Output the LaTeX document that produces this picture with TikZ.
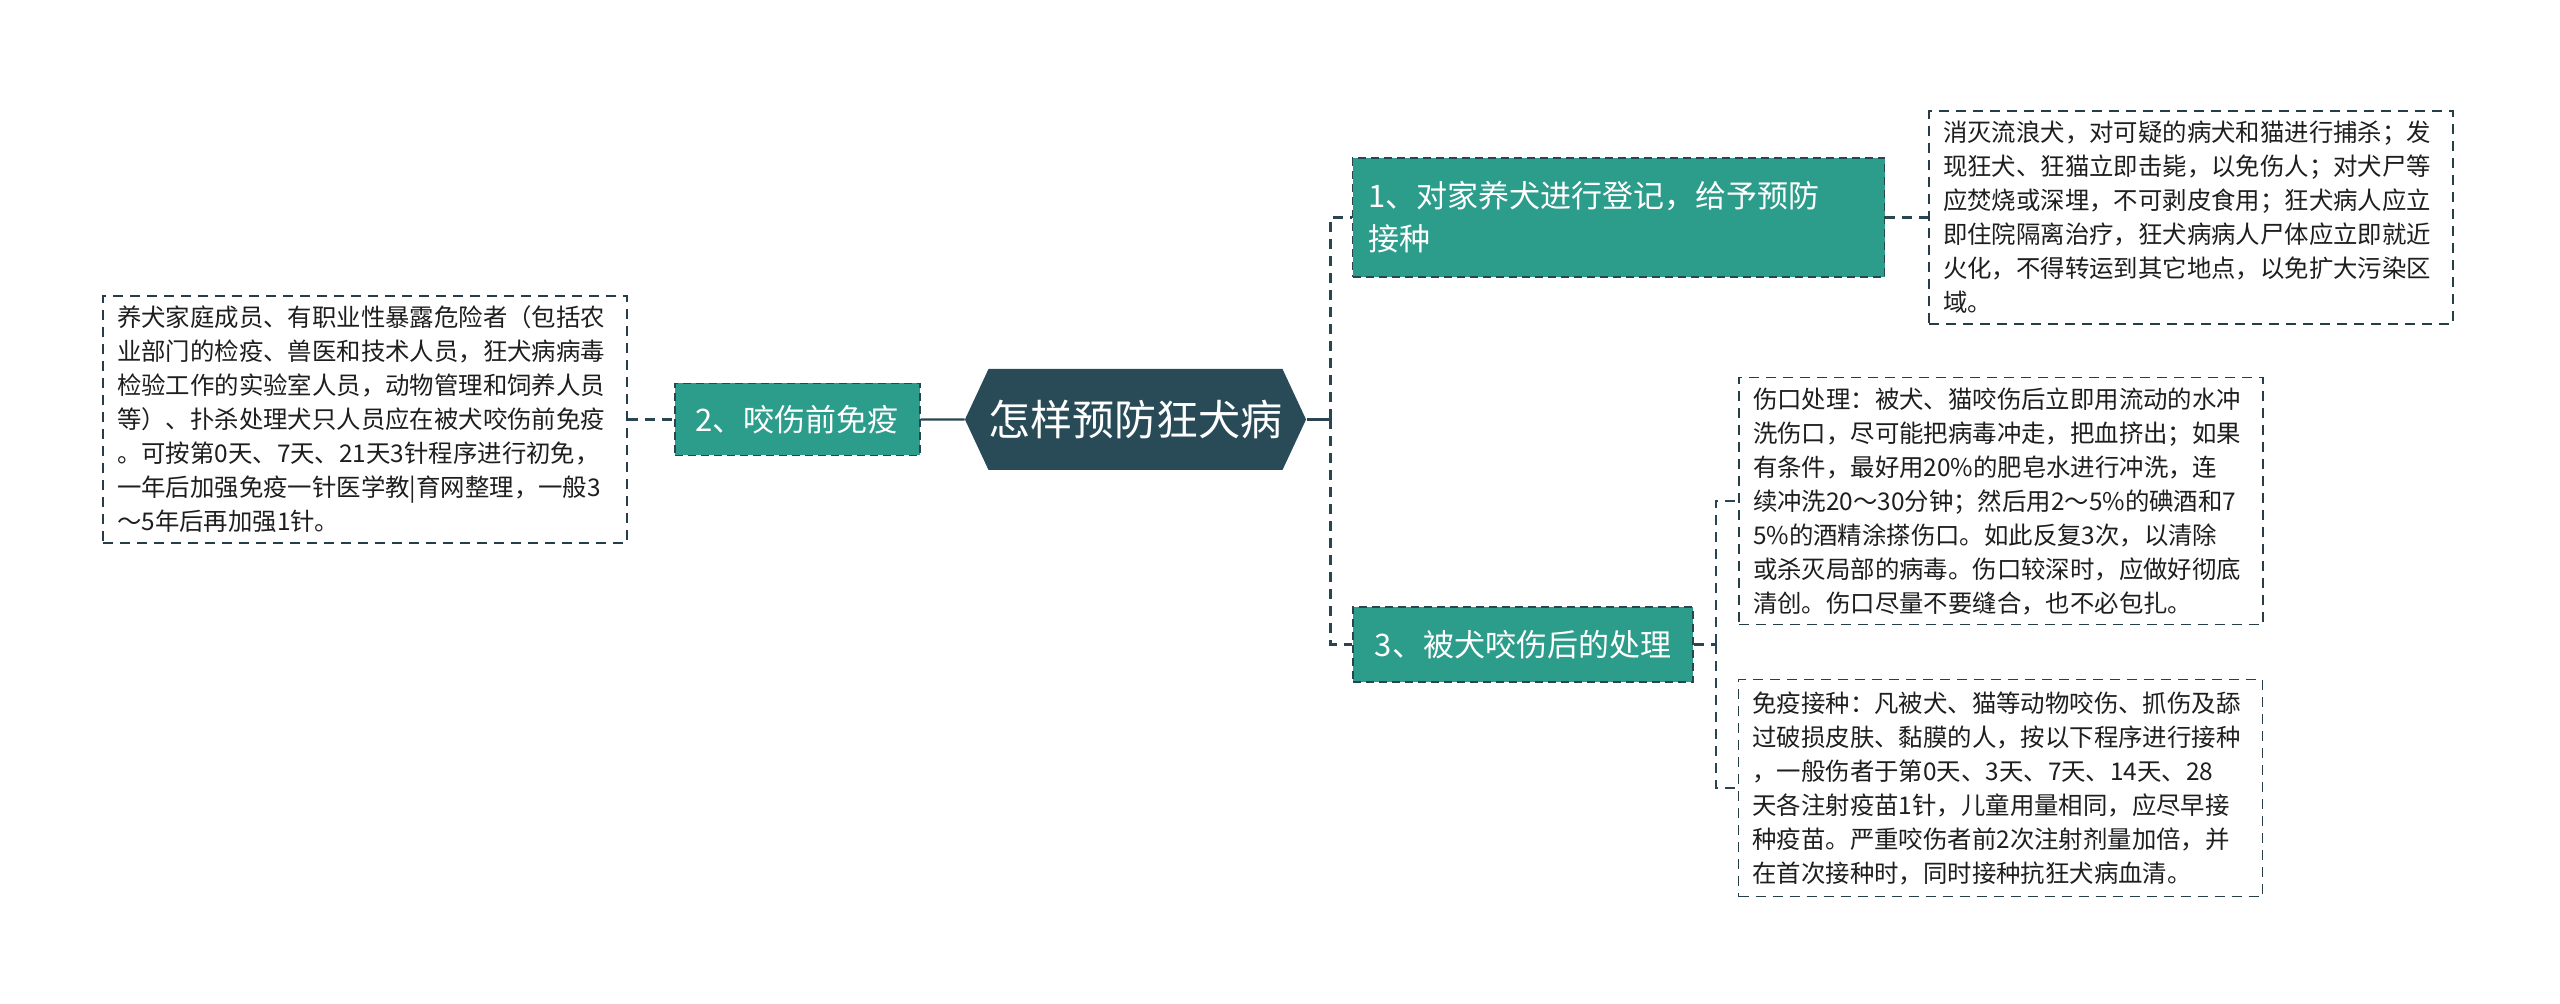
\documentclass[tikz,border=0pt]{standalone}
\usepackage{fontspec}
\newfontfamily\cjk{Noto Sans CJK SC}
\usepackage{xcolor}
\usetikzlibrary{positioning,shapes.symbols}

\definecolor{rootfill}{HTML}{284B57}
\definecolor{secfill}{HTML}{2C9C8B}
\definecolor{edgecol}{HTML}{2A4552}
\definecolor{leaftext}{HTML}{1E1E1E}

\begin{document}
\begin{tikzpicture}[x=0.5pt, y=-0.5pt, font=\cjk]
        \tikzstyle{topic} = [signal, signal to=east and west, signal pointer angle=130, fill=rootfill, text=white, font=\cjk\fontsize{21}{25}\selectfont, minimum width=170.5pt, minimum height=50.5pt, inner sep=0pt]
        \tikzstyle{sub} = [rectangle, draw=edgecol, line width=0.8pt, dash pattern=on 4pt off 2.5pt, fill=secfill, text=white, font=\cjk\fontsize{15.5}{21.5}\selectfont, inner sep=0pt]
        \tikzstyle{leaf} = [rectangle, draw=edgecol!90!black, line width=0.8pt, dash pattern=on 5pt off 3.5pt, fill=white, text=leaftext, font=\cjk\fontsize{12.2}{17}\selectfont, text width=248pt, align=left, inner xsep=7pt, inner ysep=5pt]
        \tikzstyle{link} = [edgecol, line width=1.1pt]
        \tikzstyle{dlink} = [link, dash pattern=on 5pt off 3.5pt]

        \useasboundingbox (0,0) rectangle (2560,1004);

        \node (root) [topic] at (1135.5,419.5) {怎样预防狂犬病};
        \node (prevent) [sub, minimum width=122.5pt, minimum height=36pt, left=22pt of root] {2、咬伤前免疫};
        \node (preventtxt) [leaf, left=23pt of prevent] {养犬家庭成员、有职业性暴露危险者（包括农\\业部门的检疫、兽医和技术人员，狂犬病病毒\\检验工作的实验室人员，动物管理和饲养人员\\等）、扑杀处理犬只人员应在被犬咬伤前免疫\\。可按第0天、7天、21天3针程序进行初免，\\一年后加强免疫一针医学教|育网整理，一般3\\～5年后再加强1针。};
        \node (register) [sub, text width=250pt, align=left, inner xsep=8pt, minimum height=59.5pt] at (1618.5,217.5) {1、对家养犬进行登记，给予预防\\接种};
        \node (registertxt) [leaf, right=21.5pt of register] {消灭流浪犬，对可疑的病犬和猫进行捕杀；发\\现狂犬、狂猫立即击毙，以免伤人；对犬尸等\\应焚烧或深埋，不可剥皮食用；狂犬病人应立\\即住院隔离治疗，狂犬病病人尸体应立即就近\\火化，不得转运到其它地点，以免扩大污染区\\域。};
        \node (bitten) [sub, minimum width=170pt, minimum height=37.5pt] at (1523,644.5) {3、被犬咬伤后的处理};
        \node (wound) [leaf] at (2001,501) {伤口处理：被犬、猫咬伤后立即用流动的水冲\\洗伤口，尽可能把病毒冲走，把血挤出；如果\\有条件，最好用20\%的肥皂水进行冲洗，连\\续冲洗20～30分钟；然后用2～5\%的碘酒和7\\5\%的酒精涂搽伤口。如此反复3次，以清除\\或杀灭局部的病毒。伤口较深时，应做好彻底\\清创。伤口尽量不要缝合，也不必包扎。};
        \node (vaccine) [leaf, inner ysep=6pt] at (2000.5,788) {免疫接种：凡被犬、猫等动物咬伤、抓伤及舔\\过破损皮肤、黏膜的人，按以下程序进行接种\\，一般伤者于第0天、3天、7天、14天、28\\天各注射疫苗1针，儿童用量相同，应尽早接\\种疫苗。严重咬伤者前2次注射剂量加倍，并\\在首次接种时，同时接种抗狂犬病血清。};

        \coordinate (trunk) at ([xshift=12pt]root.east);
        \coordinate (fork) at ([xshift=11pt]bitten.east);

        \draw[link] (prevent) -- (root);
        \draw[dlink] (preventtxt) -- (prevent);
        \draw[link] (root.east) -- (trunk);
        \draw[dlink] (trunk) |- (register.west);
        \draw[dlink] (trunk) |- (bitten.west);
        \draw[dlink] (register.east) -- (register.east -| registertxt.west);
        \draw[dlink] (bitten.east) -- (fork);
        \draw[dlink] (fork) |- (wound.west);
        \draw[dlink] (fork) |- (vaccine.west);
    \end{tikzpicture}
\end{document}
